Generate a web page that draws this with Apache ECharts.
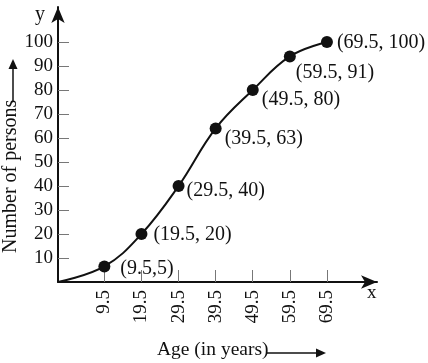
<!DOCTYPE html>
<html>
<head>
<meta charset="utf-8">
<script src="https://cdn.jsdelivr.net/npm/echarts@6/dist/echarts.min.js"></script>
<style>
html,body{margin:0;padding:0;background:#fff;}
#c{width:428px;height:363px;}
</style>
</head>
<body>
<div id="c"></div>
<script>
// ---- data ----
const ageTicks = [9.5, 19.5, 29.5, 39.5, 49.5, 59.5, 69.5];
const personTicks = [10, 20, 30, 40, 50, 60, 70, 80, 90, 100];
const ageValues = [9.5, 19.5, 29.5, 39.5, 49.5, 59.5, 69.5];
const cumulativeValues = [6.5, 20, 40, 64, 80, 94, 100];
const pointLabels = ['(9.5,5)', '(19.5, 20)', '(29.5, 40)', '(39.5, 63)', '(49.5, 80)', '(59.5, 91)', '(69.5, 100)'];
const curveStart = [-3, 0];
const xTitle = 'Age (in years)';
const yTitle = 'Number of persons';

// ---- styles ----
const FONT = 'Liberation Serif';
const INK = '#111111';
const labelStyle = [
  {distance: 10, offset: [0, 2]},
  {distance: 6, offset: [0, 1]},
  {distance: 2, offset: [0, 5]},
  {distance: 3, offset: [0, 10]},
  {distance: 3, offset: [0, 10]},
  {distance: 0, offset: [0, 16]},
  {distance: 4, offset: [0, 1]}
];

const curveData = [curveStart].concat(ageValues.map((x, i) => [x, cumulativeValues[i]]));
const pointData = ageValues.map((x, i) => ({
  value: [x, cumulativeValues[i]],
  label: {
    show: true,
    position: 'right',
    distance: labelStyle[i].distance,
    offset: labelStyle[i].offset,
    formatter: pointLabels[i]
  }
}));

const chart = echarts.init(document.getElementById('c'), null, {renderer: 'canvas'});
chart.setOption({
  animation: false,
  backgroundColor: '#fff',
  grid: {left: 58, right: 51, top: 7, bottom: 81, containLabel: false},
  xAxis: {
    type: 'value',
    min: -3, max: 83,
    splitLine: {show: false},
    axisLine: {show: true, onZero: false, lineStyle: {color: INK, width: 2},
      symbol: ['none', 'arrow'], symbolSize: [10, 16], symbolOffset: [0, 0]},
    axisTick: {show: true, inside: true, length: 12, customValues: ageTicks,
      lineStyle: {color: '#777', width: 1}},
    axisLabel: {show: true, customValues: ageTicks, rotate: 90, margin: 8,
      fontFamily: FONT, fontSize: 19, color: INK,
      formatter: v => v.toFixed(1)}
  },
  yAxis: {
    type: 'value',
    min: 0, max: 114.6,
    splitLine: {show: false},
    axisLine: {show: true, onZero: false, lineStyle: {color: INK, width: 2},
      symbol: ['none', 'arrow'], symbolSize: [10, 16], symbolOffset: [0, 0]},
    axisTick: {show: true, inside: true, length: 11, customValues: personTicks,
      lineStyle: {color: '#777', width: 1}},
    axisLabel: {show: true, customValues: personTicks, margin: 5,
      fontFamily: FONT, fontSize: 19, color: INK}
  },
  series: [
    {
      type: 'line',
      data: curveData,
      smooth: 0.4,
      showSymbol: false,
      lineStyle: {color: INK, width: 2},
      silent: true,
      z: 2
    },
    {
      type: 'scatter',
      data: pointData,
      symbol: 'circle',
      symbolSize: 12,
      itemStyle: {color: INK, opacity: 1},
      label: {fontFamily: FONT, fontSize: 20, color: INK},
      z: 3
    }
  ],
  graphic: [
    {type: 'text', left: 35, top: 5,
      style: {text: 'y', font: '20px "Liberation Serif"', fill: INK}},
    {type: 'text', left: 367, top: 284,
      style: {text: 'x', font: '19px "Liberation Serif"', fill: INK}},
    {type: 'text', left: 157, top: 340,
      style: {text: xTitle, font: '19.5px "Liberation Serif"', fill: INK}},
    {type: 'line', shape: {x1: 266, y1: 353, x2: 318, y2: 353},
      style: {stroke: INK, lineWidth: 1.5}},
    {type: 'polygon', shape: {points: [[326, 353], [316, 348.5], [316, 357.5]]},
      style: {fill: INK}},
    {type: 'text', x: 11, y: 253, rotation: Math.PI / 2,
      style: {text: yTitle, font: '20px "Liberation Serif"', fill: INK,
        textAlign: 'left', textVerticalAlign: 'middle'}},
    {type: 'line', shape: {x1: 13, y1: 102, x2: 13, y2: 66},
      style: {stroke: INK, lineWidth: 1.5}},
    {type: 'polygon', shape: {points: [[13, 59], [8.5, 69], [17.5, 69]]},
      style: {fill: INK}}
  ]
});
</script>
</body>
</html>
